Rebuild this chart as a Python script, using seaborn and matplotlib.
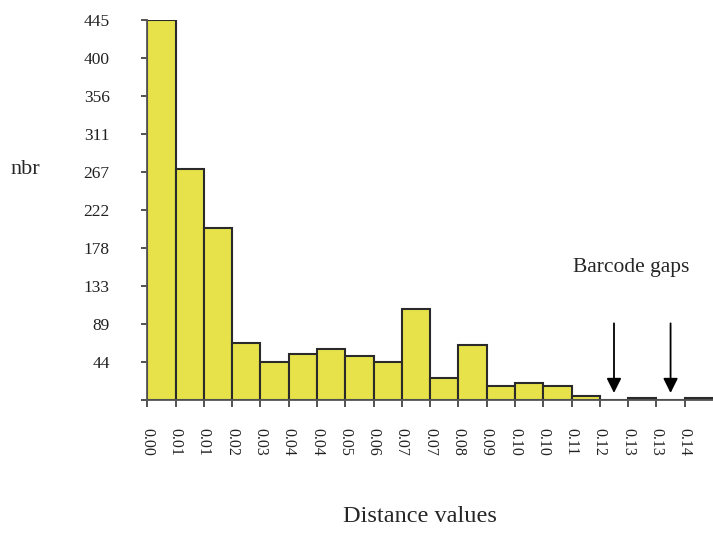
import numpy as np
import pandas as pd
import matplotlib
matplotlib.use("Agg")
import matplotlib.pyplot as plt
import seaborn as sns

# counts per distance bin
counts = [445, 270, 201, 67, 45, 54, 60, 52, 45, 107, 26, 64, 17, 20, 17, 5, 0, 2, 0, 2]
bin_width = 0.0074
tick_labels = ["0.00", "0.01", "0.01", "0.02", "0.03", "0.04", "0.04", "0.05", "0.06", "0.07",
               "0.07", "0.08", "0.09", "0.10", "0.10", "0.11", "0.12", "0.13", "0.13", "0.14"]
y_ticks = [44.5 * k for k in range(11)]
y_labels = ["", "44", "89", "133", "178", "222", "267", "311", "356", "400", "445"]
gap_bins = [16, 18]  # empty bins marked as barcode gaps

sns.set_style("ticks")
plt.rcParams["font.family"] = ["Liberation Serif", "DejaVu Serif"]

n_bins = len(counts)
edges = np.arange(n_bins + 1) * bin_width
centers = edges[:-1] + bin_width / 2
df = pd.DataFrame({"distance": centers, "nbr": counts})

fig = plt.figure(figsize=(7.13, 5.35), dpi=100)
ax = fig.add_axes([0.2065, 0.2523, 0.7935, 0.7103])

sns.histplot(data=df, x="distance", weights="nbr", bins=n_bins, binrange=(0, edges[-1]),
             color="#e8e24a", edgecolor="#2a2a2a", linewidth=1.5, alpha=1, ax=ax)

ax.set_xlim(0, edges[-1])
ax.set_ylim(0, 445)
ax.set_xticks(edges[:-1])
ax.set_xticklabels(tick_labels, rotation=-90, fontsize=11.5, color="#222222")
ax.set_yticks(y_ticks)
ax.set_yticklabels(y_labels, fontsize=12.5, color="#222222")
ax.tick_params(axis="y", direction="out", length=4, width=1.3, pad=23, color="#444444")
ax.tick_params(axis="x", direction="out", length=5, width=1.3, pad=15, color="#444444")
ax.set_xlabel("")
ax.set_ylabel("")
sns.despine(ax=ax)
for side in ["left", "bottom"]:
    ax.spines[side].set_color("#555555")
    ax.spines[side].set_linewidth(1.3)

# barcode gap arrows
for b in gap_bins:
    ax.annotate("", xy=(centers[b], 5), xytext=(centers[b], 93),
                arrowprops=dict(arrowstyle="-|>", color="black", lw=1.3, mutation_scale=22),
                annotation_clip=False)
ax.text(0.1265, 155, "Barcode gaps", ha="center", va="center", fontsize=15.5, clip_on=False)

fig.text(25 / 713, 1 - 170 / 535, "nbr", ha="center", va="center", fontsize=16)
fig.text(420 / 713, 1 - 517 / 535, "Distance values", ha="center", va="center", fontsize=17.5)

fig.savefig("out.png", dpi=100)
